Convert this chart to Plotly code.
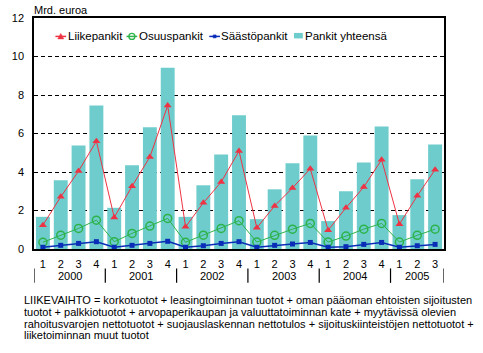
import plotly.graph_objects as go

year_labels = ["2000", "2001", "2002", "2003", "2004", "2005"]
quarters = ["1", "2", "3", "4"] * 5 + ["1", "2", "3"]
quarters_per_year = [4, 4, 4, 4, 4, 3]

pankit_yhteensa = [1.67, 3.57, 5.38, 7.45, 2.14, 4.35, 6.33, 9.41, 1.67, 3.31, 4.91, 6.95,
                   1.55, 3.10, 4.45, 5.90, 1.45, 3.00, 4.50, 6.36, 1.76, 3.62, 5.43]
liikepankit = [1.24, 2.71, 4.05, 5.60, 1.64, 3.26, 4.78, 7.45, 1.15, 2.40, 3.48, 5.09,
               1.10, 2.24, 3.17, 4.17, 0.98, 2.14, 3.22, 4.64, 1.29, 2.76, 4.12]
osuuspankit = [0.35, 0.72, 1.07, 1.50, 0.38, 0.81, 1.19, 1.59, 0.35, 0.72, 1.07, 1.47,
               0.36, 0.71, 1.03, 1.33, 0.36, 0.67, 1.03, 1.33, 0.36, 0.71, 1.03]
saastopankit = [0.09, 0.19, 0.29, 0.38, 0.09, 0.19, 0.29, 0.40, 0.09, 0.17, 0.29, 0.38,
                0.09, 0.19, 0.26, 0.34, 0.09, 0.12, 0.24, 0.34, 0.09, 0.17, 0.24]

series_names = ["Liikepankit", "Osuuspankit", "Säästöpankit", "Pankit yhteensä"]
footnote_lines = [
    "LIIKEVAIHTO = korkotuotot + leasingtoiminnan tuotot + oman pääoman ehtoisten sijoitusten",
    "tuotot + palkkiotuotot + arvopaperikaupan ja valuuttatoiminnan kate + myytävissä olevien",
    "rahoitusvarojen nettotuotot + suojauslaskennan nettotulos + sijoituskiinteistöjen nettotuotot +",
    "liiketoiminnan muut tuotot",
]

RED = "#ee3344"
GREEN = "#2db34a"
BLUE = "#0a2db8"
TEAL = "#6ecccc"
font = "Liberation Sans, Arial, sans-serif"

W, H = 483, 353
ML, MR, MT, MB = 23, 39, 17, 104
PW, PH = W - ML - MR, H - MT - MB

def px(xp):
    return (xp - ML) / PW

def py(yp):
    return (H - MB - yp) / PH

idx = list(range(len(quarters)))

fig = go.Figure()
fig.add_trace(go.Bar(x=idx, y=pankit_yhteensa, name=series_names[3],
                     marker=dict(color=TEAL, line=dict(width=0))))
fig.add_trace(go.Scatter(x=idx, y=liikepankit, name=series_names[0], mode="lines+markers",
                         line=dict(color=RED, width=1),
                         marker=dict(symbol="triangle-up", size=7, color=RED)))
fig.add_trace(go.Scatter(x=idx, y=osuuspankit, name=series_names[1], mode="lines+markers",
                         line=dict(color=GREEN, width=1),
                         marker=dict(symbol="circle-open", size=8, color=GREEN, line=dict(width=1.5))))
fig.add_trace(go.Scatter(x=idx, y=saastopankit, name=series_names[2], mode="lines+markers",
                         line=dict(color=BLUE, width=1.5),
                         marker=dict(symbol="square", size=5, color=BLUE)))

shapes = []
annotations = []

# year labels and dividers under the category axis
start = 0
bounds = [-0.5]
for yl, n in zip(year_labels, quarters_per_year):
    mid = start + (n - 1) / 2
    annotations.append(dict(text=yl, xref="x", yref="paper", x=mid, y=py(276.5),
                            xanchor="center", yanchor="middle", showarrow=False,
                            font=dict(size=11)))
    start += n
    bounds.append(start - 0.5)
for b in bounds:
    shapes.append(dict(type="line", xref="x", yref="paper", x0=b, x1=b,
                       y0=py(268.5), y1=py(283), line=dict(color="black", width=1.2),
                       layer="above"))

# custom legend (symbols + text)
leg_y = py(35.5)
leg_items = [
    (45, 56, 57.5, RED, "tri"),
    (118, 129, 131, GREEN, "circ"),
    (203, 214, 215.5, BLUE, "sq"),
    (290, 299, 301, TEAL, "box"),
]
for (x0, x1, xt, col, kind), name in zip(leg_items, series_names):
    xm = px((x0 + x1) / 2)
    if kind != "box":
        shapes.append(dict(type="line", xref="paper", yref="paper", x0=px(x0), x1=px(x1),
                           y0=leg_y, y1=leg_y, line=dict(color=col, width=1.5)))
    if kind == "tri":
        shapes.append(dict(type="path", xref="paper", yref="paper", xsizemode="pixel",
                           ysizemode="pixel", xanchor=xm, yanchor=leg_y,
                           path="M-3,-2.5 L3,-2.5 L0,3 Z", fillcolor=col,
                           line=dict(color=col, width=0.5)))
    elif kind == "circ":
        shapes.append(dict(type="circle", xref="paper", yref="paper", xsizemode="pixel",
                           ysizemode="pixel", xanchor=xm, yanchor=leg_y,
                           x0=-3, x1=3, y0=-3, y1=3, fillcolor="rgba(0,0,0,0)",
                           line=dict(color=col, width=1.3)))
    elif kind == "sq":
        shapes.append(dict(type="rect", xref="paper", yref="paper", xsizemode="pixel",
                           ysizemode="pixel", xanchor=xm, yanchor=leg_y,
                           x0=-1.5, x1=1.5, y0=-1.5, y1=1.5, fillcolor=col,
                           line=dict(color=col, width=0.5)))
    else:
        shapes.append(dict(type="rect", xref="paper", yref="paper", x0=px(x0), x1=px(x1),
                           y0=py(37.5), y1=py(32), fillcolor=col, line=dict(width=0)))
    annotations.append(dict(text=name, xref="paper", yref="paper", x=px(xt), y=leg_y,
                            xanchor="left", yanchor="middle", showarrow=False,
                            xshift=-2, font=dict(size=11.5)))

# axis unit label
annotations.append(dict(text="Mrd. euroa", xref="paper", yref="paper", x=0, y=py(8.5),
                        xanchor="left", yanchor="middle", showarrow=False, xshift=-2,
                        font=dict(size=11)))

# footnote
for i, line in enumerate(footnote_lines):
    annotations.append(dict(text=line, xref="paper", yref="paper", x=px(13),
                            y=py(300.5 + i * 11.7), xanchor="left", yanchor="middle",
                            showarrow=False, xshift=-2, font=dict(size=11)))

fig.update_layout(
    width=W, height=H,
    margin=dict(l=ML, r=MR, t=MT, b=MB),
    paper_bgcolor="white", plot_bgcolor="white",
    font=dict(family=font, size=11, color="black"),
    bargap=0.22,
    showlegend=False,
    xaxis=dict(range=[-0.5, len(quarters) - 0.5], tickvals=idx, ticktext=quarters,
               showline=True, linecolor="black", linewidth=1.5, mirror=True,
               ticks="", showgrid=False, zeroline=False, tickfont=dict(size=11),
               ticklabelstandoff=4),
    yaxis=dict(range=[0, 12], tickvals=[0, 2, 4, 6, 8, 10, 12], showline=True,
               linecolor="black", linewidth=1.5, mirror=True, ticks="",
               showgrid=True, gridcolor="black", griddash="4px,3px", gridwidth=1,
               zeroline=False, tickfont=dict(size=11), ticklabelstandoff=6),
    shapes=shapes,
    annotations=annotations,
)

fig.write_html("out.html")
